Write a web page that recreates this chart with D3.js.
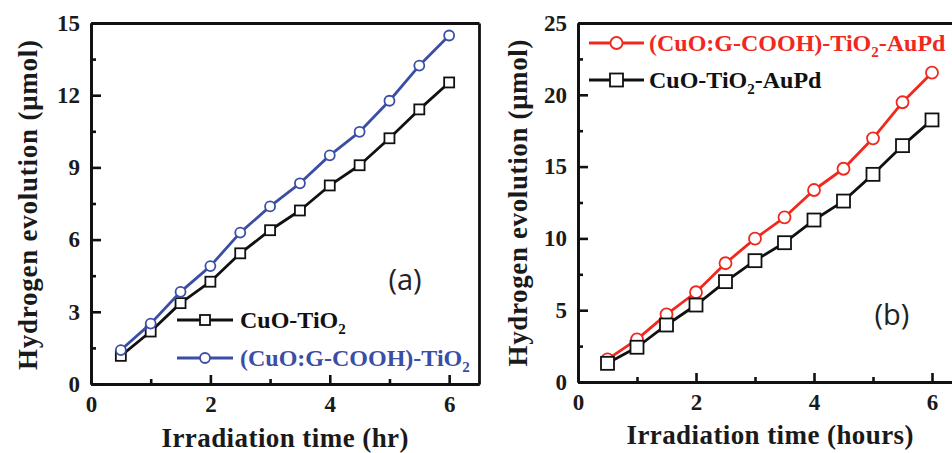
<!DOCTYPE html>
<html><head><meta charset="utf-8">
<script src="https://cdn.jsdelivr.net/npm/d3@7"></script>
<style>
html,body{margin:0;padding:0;background:#fff;overflow:hidden}
svg{display:block}
</style></head>
<body>
<svg id="chart" width="952" height="453"></svg>
<script>
// ---------------- data ----------------
const timeHours = [0.5, 1, 1.5, 2, 2.5, 3, 3.5, 4, 4.5, 5, 5.5, 6];
// panel (a)
const cuoTiO2 = [1.17, 2.18, 3.36, 4.25, 5.43, 6.39, 7.21, 8.25, 9.09, 10.21, 11.41, 12.53];
const cuoGcoohTiO2 = [1.41, 2.51, 3.83, 4.9, 6.29, 7.38, 8.34, 9.5, 10.48, 11.77, 13.23, 14.48];
// panel (b)
const cuoGcoohTiO2AuPd = [1.58, 2.97, 4.71, 6.25, 8.27, 9.98, 11.47, 13.37, 14.85, 16.97, 19.48, 21.54];
const cuoTiO2AuPd = [1.3, 2.42, 3.97, 5.36, 6.99, 8.45, 9.7, 11.28, 12.6, 14.46, 16.46, 18.25];
// ticks
const xMajorTicks = [0, 2, 4, 6];
const xMinorTicks = [1, 3, 5];
const yMajorTicksA = [0, 3, 6, 9, 12, 15];
const yMinorTicksA = [1.5, 4.5, 7.5, 10.5, 13.5];
const yMajorTicksB = [0, 5, 10, 15, 20, 25];
const yMinorTicksB = [2.5, 7.5, 12.5, 17.5, 22.5];
// labels
const yTitle = "Hydrogen evolution (\u03BCmol)";
const xTitleA = "Irradiation time (hr)";
const xTitleB = "Irradiation time (hours)";
const legendA = [["CuO-TiO", "2", ""], ["(CuO:G-COOH)-TiO", "2", ""]];
const legendB = [["(CuO:G-COOH)-TiO", "2", "-AuPd"], ["CuO-TiO", "2", "-AuPd"]];

const svg = d3.select("#chart");
const SERIF = "'Liberation Serif','Times New Roman',serif";
const BLUE = "#3a4ea6", RED = "#f0281e", BLACK = "#111";

function drawPanel(p) {
  const g = svg.append("g");
  const x = d3.scaleLinear().domain([0, 6.5]).range([p.left, p.right]);
  const y = d3.scaleLinear().domain([0, p.yMax]).range([p.bottom, p.top]);

  // series
  p.series.forEach(s => {
    const line = d3.line().x((d, i) => x(timeHours[i])).y(d => y(d));
    g.append("path").datum(s.values).attr("d", line)
      .attr("fill", "none").attr("stroke", s.color).attr("stroke-width", 2.8)
      .attr("stroke-linejoin", "round");
    const m = g.append("g");
    s.values.forEach((v, i) => {
      drawMarker(m, s.marker, x(timeHours[i]), y(v), s.color, s.size);
    });
  });

  // axes
  const axStyle = sel => {
    sel.selectAll(".domain").attr("stroke", BLACK).attr("stroke-width", 2.8);
    sel.selectAll(".tick line").attr("stroke", BLACK).attr("stroke-width", 2.6);
    sel.selectAll("text").attr("font-family", SERIF).attr("font-weight", "bold")
      .attr("font-size", 23).attr("fill", "#1a1a1a");
  };
  g.append("g").attr("transform", `translate(0,${p.bottom})`)
    .call(d3.axisBottom(x).tickValues(xMinorTicks).tickSizeInner(-5).tickSizeOuter(0).tickFormat(""))
    .call(axStyle);
  g.append("g").attr("transform", `translate(0,${p.bottom})`)
    .call(d3.axisBottom(x).tickValues(xMajorTicks).tickSizeInner(-9).tickSizeOuter(0).tickPadding(12).tickFormat(d3.format("d")))
    .call(axStyle);
  g.append("g").attr("transform", `translate(${p.left},0)`)
    .call(d3.axisLeft(y).tickValues(p.yMinor).tickSizeInner(-5).tickSizeOuter(0).tickFormat(""))
    .call(axStyle);
  g.append("g").attr("transform", `translate(${p.left},0)`)
    .call(d3.axisLeft(y).tickValues(p.yMajor).tickSizeInner(-10).tickSizeOuter(0).tickPadding(11).tickFormat(d3.format("d")))
    .call(axStyle);
  g.append("g").attr("transform", `translate(0,${p.top})`)
    .call(d3.axisTop(x).tickValues([]).tickSizeOuter(0)).call(axStyle);
  g.append("g").attr("transform", `translate(${p.right},0)`)
    .call(d3.axisRight(y).tickValues([]).tickSizeOuter(0)).call(axStyle);

  // axis titles
  g.append("text").attr("transform", `translate(${p.yTitleX},${p.yTitleY}) rotate(-90)`)
    .attr("text-anchor", "middle").attr("font-family", SERIF).attr("font-weight", "bold")
    .attr("font-size", 27).attr("fill", "#1a1a1a")
    .attr("textLength", p.yTitleLen).attr("lengthAdjust", "spacing")
    .text(yTitle);
  g.append("text").attr("x", p.xTitleX).attr("y", p.xTitleY)
    .attr("text-anchor", "middle").attr("font-family", SERIF).attr("font-weight", "bold")
    .attr("font-size", 27).attr("fill", "#1a1a1a")
    .attr("textLength", p.xTitleLen).attr("lengthAdjust", "spacing")
    .text(p.xTitle);

  // legend
  p.legend.forEach((L, i) => {
    const s = p.series[L.idx];
    const ly = p.legY + i * p.legGap;
    g.append("line").attr("x1", p.legX1).attr("x2", p.legX2).attr("y1", ly).attr("y2", ly)
      .attr("stroke", s.color).attr("stroke-width", 2.8);
    drawMarker(g, s.marker, (p.legX1 + p.legX2) / 2, ly, s.color, s.size);
    const t = g.append("text").attr("x", p.legTextX).attr("y", ly + 8)
      .attr("font-family", SERIF).attr("font-weight", "bold").attr("font-size", 24)
      .attr("fill", s.color);
    t.append("tspan").text(L.label[0]);
    t.append("tspan").attr("font-size", 15).attr("dy", 6).text(L.label[1]);
    if (L.label[2]) t.append("tspan").attr("dy", -6).text(L.label[2]);
  });

  // panel tag
  g.append("text").attr("x", p.tagX).attr("y", p.tagY).attr("text-anchor", "middle")
    .attr("font-family", "'Open Sans','Noto Sans',sans-serif").attr("font-size", 29)
    .attr("fill", "#222").text(p.tag);
}

function drawMarker(g, type, cx, cy, color, size) {
  if (type === "circle") {
    g.append("circle").attr("cx", cx).attr("cy", cy).attr("r", size / 2)
      .attr("fill", "#fff").attr("stroke", color).attr("stroke-width", 1.8);
  } else {
    g.append("rect").attr("x", cx - size / 2).attr("y", cy - size / 2)
      .attr("width", size).attr("height", size)
      .attr("fill", "#fff").attr("stroke", color).attr("stroke-width", 1.8);
  }
}

drawPanel({
  left: 91, right: 479, top: 23, bottom: 384, yMax: 15,
  yMajor: yMajorTicksA, yMinor: yMinorTicksA,
  series: [
    { values: cuoTiO2, color: BLACK, marker: "square", size: 10 },
    { values: cuoGcoohTiO2, color: BLUE, marker: "circle", size: 10 }
  ],
  legend: [{ idx: 0, label: legendA[0] }, { idx: 1, label: legendA[1] }],
  legY: 320, legGap: 38, legX1: 177, legX2: 233, legTextX: 240,
  yTitleX: 37, yTitleY: 205, yTitleLen: 330,
  xTitle: xTitleA, xTitleX: 285, xTitleY: 447, xTitleLen: 247,
  tag: "(a)", tagX: 405, tagY: 290
});

drawPanel({
  left: 578, right: 961.5, top: 23, bottom: 382, yMax: 25,
  yMajor: yMajorTicksB, yMinor: yMinorTicksB,
  series: [
    { values: cuoGcoohTiO2AuPd, color: RED, marker: "circle", size: 12 },
    { values: cuoTiO2AuPd, color: BLACK, marker: "square", size: 13 }
  ],
  legend: [{ idx: 0, label: legendB[0] }, { idx: 1, label: legendB[1] }],
  legY: 43, legGap: 37, legX1: 589, legX2: 644, legTextX: 649,
  yTitleX: 527, yTitleY: 203, yTitleLen: 327,
  xTitle: xTitleB, xTitleX: 770, xTitleY: 444, xTitleLen: 287,
  tag: "(b)", tagX: 892, tagY: 325
});
</script>
</body></html>
